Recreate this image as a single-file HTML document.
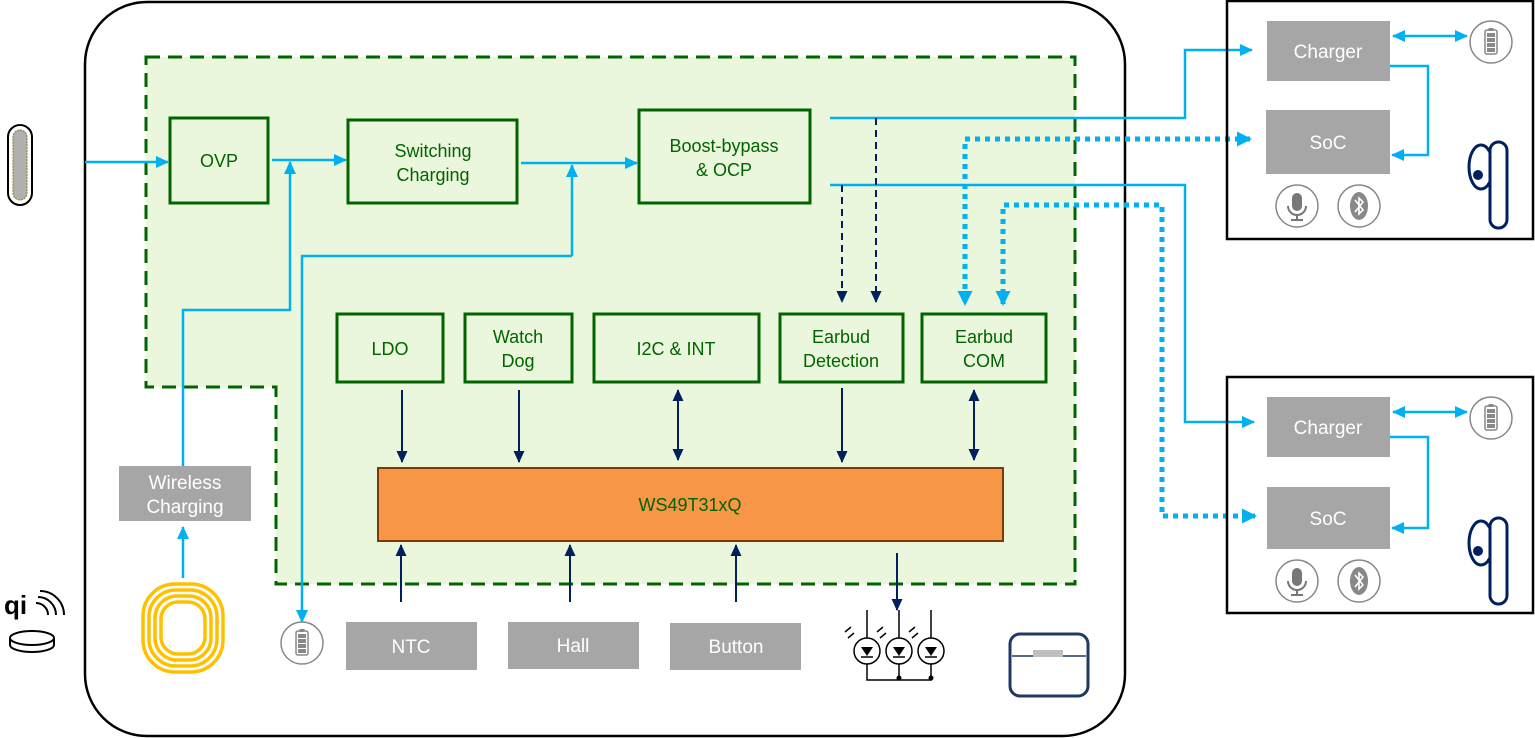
<!DOCTYPE html>
<html><head><meta charset="utf-8"><style>
body{margin:0;background:#fff;}
svg{display:block;font-family:"Liberation Sans",Arial,sans-serif;}
</style></head><body>
<svg width="1535" height="738" viewBox="0 0 1535 738" xmlns="http://www.w3.org/2000/svg">
<defs>
<marker id="ab" markerWidth="14" markerHeight="14" refX="12" refY="6" orient="auto-start-reverse" markerUnits="userSpaceOnUse"><path d="M0,0 L13,6 L0,12 z" fill="#00b0f0"/></marker>
<marker id="an" markerWidth="14" markerHeight="14" refX="11" refY="5.5" orient="auto-start-reverse" markerUnits="userSpaceOnUse"><path d="M0,0 L12,5.5 L0,11 z" fill="#002060"/></marker>
<marker id="abb" markerWidth="16" markerHeight="16" refX="13" refY="7.5" orient="auto-start-reverse" markerUnits="userSpaceOnUse"><path d="M0,0 L15,7.5 L0,15 z" fill="#00b0f0"/></marker>
<g id="bat"><circle cx="0" cy="0" r="21" fill="#fff" stroke="#888" stroke-width="1.5"/><rect x="-6" y="-12" width="12" height="24" rx="2" fill="#fff" stroke="#888" stroke-width="1.5"/><rect x="-2.5" y="-14" width="5" height="3" fill="#888"/><rect x="-4" y="-9" width="8" height="4" fill="#888"/><rect x="-4" y="-4" width="8" height="4" fill="#888"/><rect x="-4" y="1" width="8" height="4" fill="#888"/><rect x="-4" y="6" width="8" height="4" fill="#888"/></g>
<g id="mic"><circle r="21" fill="#fff" stroke="#888" stroke-width="1.5"/><rect x="-5" y="-13" width="10" height="18" rx="5" fill="#777"/><path d="M-9,0 a9,9 0 0 0 18,0" fill="none" stroke="#777" stroke-width="2"/><path d="M0,9 v5 M-6,14 h12" stroke="#777" stroke-width="2"/></g>
<g id="bt"><circle r="21" fill="#fff" stroke="#888" stroke-width="1.5"/><ellipse rx="9" ry="14" fill="#888"/><path d="M-4,-6 L4,4 L0,8 L0,-8 L4,-4 L-4,6" fill="none" stroke="#fff" stroke-width="1.6"/></g>
<g id="bud"><ellipse cx="-3" cy="22" rx="12" ry="22" fill="#fff" stroke="#002060" stroke-width="3"/><rect x="6" y="-3" width="17" height="86" rx="8.5" fill="#fff" stroke="#002060" stroke-width="3"/><circle cx="-6" cy="30" r="5" fill="#002060"/></g>
</defs>

<rect x="85" y="2" width="1040" height="734" rx="62" fill="#fff" stroke="#000" stroke-width="2.5"/>
<path d="M146,57 H1075 V584 H276 V387 H146 Z" fill="#ebf7dc" stroke="#006400" stroke-width="3" stroke-dasharray="14,8"/>

<g fill="#ebf7dc" stroke="#006400" stroke-width="3">
<rect x="170" y="118" width="98" height="85"/>
<rect x="348" y="120" width="169" height="83"/>
<rect x="639" y="110" width="171" height="93"/>
<rect x="337" y="314" width="106" height="68"/>
<rect x="465" y="314" width="107" height="68"/>
<rect x="594" y="314" width="165" height="68"/>
<rect x="780" y="314" width="123" height="68"/>
<rect x="922" y="314" width="124" height="68"/>
</g>
<g fill="#006400" font-size="18" text-anchor="middle">
<text x="219" y="167">OVP</text>
<text x="433" y="157">Switching</text><text x="433" y="181">Charging</text>
<text x="724" y="152">Boost-bypass</text><text x="724" y="176">&amp; OCP</text>
<text x="390" y="355">LDO</text>
<text x="518" y="343">Watch</text><text x="518" y="367">Dog</text>
<text x="676" y="355">I2C &amp; INT</text>
<text x="841" y="343">Earbud</text><text x="841" y="367">Detection</text>
<text x="984" y="343">Earbud</text><text x="984" y="367">COM</text>
</g>
<rect x="378" y="468" width="625" height="73" fill="#f79646" stroke="#7a3b0a" stroke-width="2"/>
<text x="690" y="511" fill="#006400" font-size="18" text-anchor="middle">WS49T31xQ</text>

<g fill="#a6a6a6">
<rect x="119" y="466" width="132" height="55"/>
<rect x="346" y="622" width="131" height="48"/>
<rect x="508" y="622" width="131" height="47"/>
<rect x="670" y="623" width="131" height="47"/>
<rect x="1267" y="21" width="123" height="60"/>
<rect x="1266" y="110" width="124" height="64"/>
<rect x="1267" y="397" width="123" height="60"/>
<rect x="1267" y="487" width="123" height="62"/>
</g>
<g fill="#fff" font-size="19" text-anchor="middle">
<text x="185" y="489">Wireless</text><text x="185" y="513">Charging</text>
<text x="411" y="653">NTC</text><text x="573" y="652">Hall</text><text x="736" y="653">Button</text>
<text x="1328" y="58">Charger</text><text x="1328" y="149">SoC</text>
<text x="1328" y="434">Charger</text><text x="1328" y="525">SoC</text>
</g>

<g fill="none" stroke="#00b0f0" stroke-width="2.5">
<path d="M85,162 H168" marker-end="url(#ab)"/>
<path d="M272,160 H346" marker-end="url(#ab)"/>
<path d="M183,466 V310 H290 V162" marker-end="url(#ab)"/>
<path d="M521,163 H637" marker-end="url(#ab)"/>
<path d="M572,256 V165" marker-end="url(#ab)"/>
<path d="M572,256 H302 V622" marker-end="url(#ab)"/>
<path d="M183,578 V527" marker-end="url(#ab)"/>
<path d="M830,118 H1185 V50 H1252" marker-end="url(#ab)"/>
<path d="M830,185 H1185 V422 H1254" marker-end="url(#ab)"/>
<path d="M1393,36 H1467" marker-start="url(#ab)" marker-end="url(#ab)"/>
<path d="M1390,66 H1428 V155 H1392" marker-end="url(#ab)"/>
<path d="M1393,412 H1467" marker-start="url(#ab)" marker-end="url(#ab)"/>
<path d="M1390,437 H1428 V528 H1392" marker-end="url(#ab)"/>
</g>
<g fill="none" stroke="#00b0f0" stroke-width="5" stroke-dasharray="5,5">
<path d="M1250,139 H965 V304" marker-start="url(#abb)" marker-end="url(#abb)"/>
<path d="M1003,304 V205 H1162 V516 H1255" marker-start="url(#abb)" marker-end="url(#abb)"/>
</g>
<g fill="none" stroke="#002060" stroke-width="2" stroke-dasharray="7,5">
<path d="M876,118 V302" marker-end="url(#an)"/>
<path d="M842,185 V302" marker-end="url(#an)"/>
</g>
<g fill="none" stroke="#002060" stroke-width="2">
<path d="M402,390 V462" marker-end="url(#an)"/>
<path d="M519,390 V462" marker-end="url(#an)"/>
<path d="M678,390 V460" marker-start="url(#an)" marker-end="url(#an)"/>
<path d="M842,388 V462" marker-end="url(#an)"/>
<path d="M974,390 V460" marker-start="url(#an)" marker-end="url(#an)"/>
<path d="M401,602 V545" marker-end="url(#an)"/>
<path d="M570,602 V545" marker-end="url(#an)"/>
<path d="M736,602 V545" marker-end="url(#an)"/>
<path d="M897,553 V610" marker-end="url(#an)"/>
</g>

<rect x="1227" y="1" width="306" height="238" fill="none" stroke="#000" stroke-width="2.5"/>
<rect x="1227" y="377" width="306" height="236" fill="none" stroke="#000" stroke-width="2.5"/>
<use href="#bat" x="1491" y="42"/>
<use href="#bat" x="1491" y="418"/>
<use href="#mic" x="1297" y="206"/><use href="#bt" x="1359" y="206"/>
<use href="#mic" x="1297" y="581"/><use href="#bt" x="1359" y="581"/>
<use href="#bud" x="1484" y="145"/>
<use href="#bud" x="1484" y="521"/>

<use href="#bat" x="302" y="643"/>

<rect x="8" y="125" width="24" height="80" rx="12" fill="#fff" stroke="#000" stroke-width="2"/>
<rect x="13" y="130" width="14" height="70" rx="7" fill="#b0b0b0" stroke="#8a7a00" stroke-width="1" stroke-dasharray="2,1"/>

<g fill="none" stroke="#ffc000" stroke-width="3.5">
<rect x="143" y="584" width="80" height="88" rx="32"/>
<rect x="149" y="590" width="68" height="76" rx="27"/>
<rect x="155" y="596" width="56" height="64" rx="22"/>
<rect x="161" y="602" width="44" height="52" rx="17"/>
</g>

<text x="4" y="614" font-size="26" font-weight="bold" fill="#000">qi</text>
<path d="M36,603 a12,12 0 0 1 12,12 M38,597 a18,18 0 0 1 18,18 M40,591 a24,24 0 0 1 24,24" fill="none" stroke="#000" stroke-width="2"/>
<ellipse cx="32" cy="638" rx="22" ry="7" fill="#fff" stroke="#000" stroke-width="2"/>
<path d="M10,638 v7 a22,7 0 0 0 44,0 v-7" fill="none" stroke="#000" stroke-width="2"/>

<g stroke="#000" stroke-width="1.5" fill="#fff">
<path d="M867,610 V680 H931 V610 M899,610 V680" fill="none"/>
<circle cx="867" cy="651" r="13"/><circle cx="899" cy="651" r="13"/><circle cx="931" cy="651" r="13"/>
</g>
<g fill="#000">
<path d="M861,647 h12 l-6,9 z"/><path d="M893,647 h12 l-6,9 z"/><path d="M925,647 h12 l-6,9 z"/>
<circle cx="899" cy="678" r="2.5"/><circle cx="931" cy="678" r="2.5"/>
</g>
<g stroke="#000" stroke-width="1.5">
<path d="M861,657 h12 M893,657 h12 M925,657 h12"/>
<path d="M845,632 l6,-5 M848,638 l6,-5 M877,632 l6,-5 M880,638 l6,-5 M909,632 l6,-5 M912,638 l6,-5"/>
</g>

<rect x="1010" y="634" width="78" height="62" rx="10" fill="#fff" stroke="#1f3864" stroke-width="3"/>
<line x1="1012" y1="656" x2="1086" y2="656" stroke="#1f3864" stroke-width="1.5"/>
<rect x="1033" y="650" width="30" height="7" fill="#bfbfbf"/>
</svg>
</body></html>
